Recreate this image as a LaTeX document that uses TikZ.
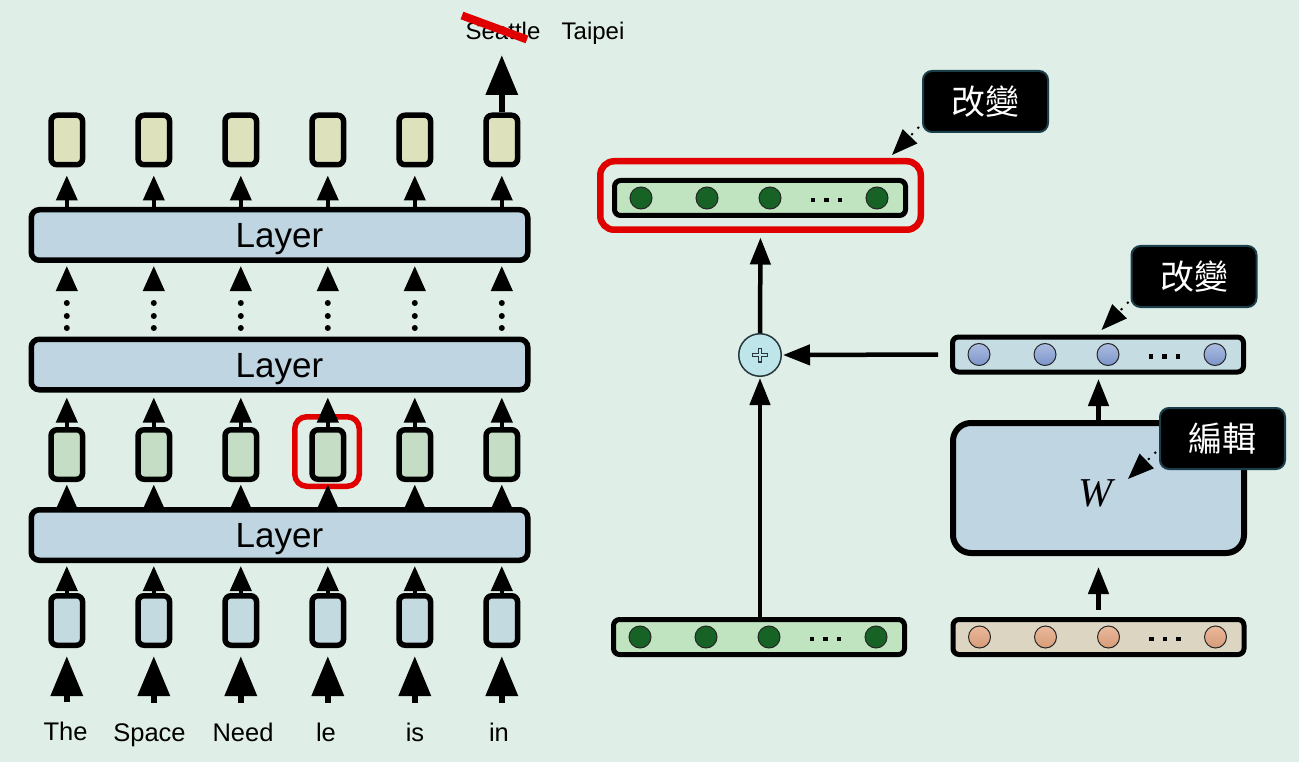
\documentclass[tikz,border=0pt]{standalone}
\usepackage{fontspec}
\setmainfont{Liberation Sans}
\newfontfamily\cjk{Noto Sans CJK TC}
\newfontfamily\lserif{Liberation Serif}
\usetikzlibrary{arrows.meta,calc}
\definecolor{bgc}{RGB}{223,238,230}
\definecolor{layerfill}{RGB}{191,213,225}
\definecolor{bluebox}{RGB}{195,218,224}
\definecolor{greenbox}{RGB}{197,221,196}
\definecolor{yellowbox}{RGB}{222,226,188}
\definecolor{vgreen}{RGB}{192,227,192}
\definecolor{dkgreen}{RGB}{23,99,37}
\definecolor{vblue}{RGB}{197,220,227}
\definecolor{vtan}{RGB}{220,213,194}
\definecolor{pluscyan}{RGB}{190,230,234}
\definecolor{plusline}{RGB}{40,55,60}
\definecolor{redc}{RGB}{224,0,0}
\definecolor{callborder}{RGB}{26,63,74}
\newcommand\vecdraw[2]{%
  \foreach \dx in {-119,-53,10,117}{\path[draw=black!85,line width=1pt,#2] ($(#1)+(\dx,0)$) circle[radius=11];}
  \foreach \dx in {53,66.5,80}{\fill ($(#1)+(\dx,2)$) +(-2.25,-2.25) rectangle +(2.25,2.25);}
}
\begin{document}
\begin{tikzpicture}[x=1pt,y=-1pt,
  sbox/.style={draw=black,line width=5.5pt,rounded corners=6pt,minimum width=31.5pt,minimum height=49.5pt,inner sep=0pt},
  layer/.style={draw=black,fill=layerfill,line width=5.5pt,rounded corners=8pt,minimum width=496.5pt,minimum height=50.5pt,inner sep=0pt,font=\fontsize{35}{35}\selectfont,text height=25pt,text depth=0pt},
  sarr/.style={line width=4pt,-{Triangle[length=25pt,width=21pt]}},
  barr/.style={line width=6.5pt,-{Triangle[length=40pt,width=31pt]}},
  rarr/.style={line width=4.5pt,-{Triangle[length=27pt,width=20pt]}},
  word/.style={anchor=base,inner sep=0pt,font=\fontsize{25.5}{25.5}\selectfont,text height=18.5pt},
  vec/.style={draw=black,line width=5pt,rounded corners=6pt,minimum width=291pt,minimum height=35pt,inner sep=0pt},
  callout/.style={fill=black,draw=callborder,line width=2pt,rounded corners=9pt,minimum width=125pt,minimum height=61pt,inner sep=0pt,text=white,font=\cjk\fontsize{34}{34}\selectfont,text height=26pt,text depth=0pt},
  pointer/.style={line width=2pt,dash pattern=on 2pt off 7pt,-{Triangle[length=26pt,width=20pt]}},
  redframe/.style={draw=redc,inner sep=0pt}
]
\fill[bgc] (0,0) rectangle (1299,762);
\useasboundingbox (0,0) rectangle (1299,762);

% ---------- left stack ----------
\node[layer] (L1) at (279.5,235) {Layer};
\node[layer] (L2) at (279.5,364.5) {Layer};
\node[layer] (L3) at (279.5,535) {Layer};
\foreach \i/\x in {1/66.8,2/153.8,3/240.8,4/327.8,5/414.8,6/501.8}{
  \node[sbox,fill=yellowbox] (Y\i) at (\x,140) {};
  \node[sbox,fill=greenbox] (G\i) at (\x,454.5) {};
  \node[sbox,fill=bluebox] (B\i) at (\x,620.5) {};
  \fill (\x,303) circle[radius=3];
  \fill (\x,316) circle[radius=3];
  \fill (\x,328) circle[radius=3];
  \coordinate (ds\i) at (\x,291);
}
\node[redframe,line width=5.5pt,rounded corners=12pt,minimum width=64.5pt,minimum height=69.5pt] (HL) at (327,451.5) {};

\node[word] (w1) at (65.5,740.5) {The};
\node[word] (w2) at (149.5,741) {Space};
\node[word] (w3) at (243,741) {Need};
\node[word] (w4) at (326,741) {le};
\node[word] (w5) at (415,741) {is};
\node[word] (w6) at (499,741) {in};

\foreach \i in {1,...,6}{
  \draw[sarr,shorten >=8pt] (L1.north -| Y\i) -- (Y\i.south);
  \draw[sarr,shorten >=3pt] (ds\i) -- (L1.south -| Y\i);
  \draw[sarr,shorten >=5pt] (G\i.north) -- (L2.south -| G\i);
  \draw[sarr,shorten >=2.5pt] (L3.north -| G\i) -- (G\i.south);
  \draw[sarr,shorten >=3pt] (B\i.north) -- (L3.south -| B\i);
  \draw[barr,shorten <=19.5pt,shorten >=8pt] (B\i |- w\i.north) -- (B\i.south);
}
\coordinate (outtip) at (501.8,55);
\draw[barr] (Y6.north) -- (outtip);

\node[anchor=base,inner sep=0pt,font=\fontsize{24}{24}\selectfont] (seattle) at (503,39.5) {Seattle};
\node[anchor=base,inner sep=0pt,font=\fontsize{24}{24}\selectfont] (taipei) at (593,40) {Taipei};
\draw[redc,line width=8pt] ($(seattle.base)+(-41,-24)$) -- ($(seattle.base)+(24,0)$);

% ---------- right side ----------
\node[vec,fill=vgreen] (V1) at (760,198) {};
\vecdraw{V1}{fill=dkgreen}
\node[redframe,line width=6.5pt,rounded corners=14pt,minimum width=320.5pt,minimum height=68.5pt] (R1) at (760.5,195.5) {};

\node[vec,fill=vblue] (V2) at (1098,354.5) {};
\vecdraw{V2}{top color={rgb,255:red,172;green,189;blue,225},bottom color={rgb,255:red,124;green,148;blue,201}}

\node[vec,fill=vgreen] (V3) at (759,637) {};
\vecdraw{V3}{fill=dkgreen}

\node[vec,fill=vtan] (V4) at (1098.5,637) {};
\vecdraw{V4}{top color={rgb,255:red,234;green,185;blue,156},bottom color={rgb,255:red,214;green,156;blue,120}}

\node[draw=black,fill=layerfill,line width=6pt,rounded corners=18pt,minimum width=291pt,minimum height=130pt,inner sep=0pt] (Wb) at (1098.5,488) {};
\node[inner sep=0pt,font=\lserif\itshape\fontsize{41}{41}\selectfont] (Wt) at (1096,493) {W};

\node[circle,draw=plusline,fill=pluscyan,line width=1.5pt,minimum size=42.5pt,inner sep=0pt] (P) at (760,355) {};
\draw[plusline,line width=3.4pt] ($(P)+(-8,0)$) -- ($(P)+(8,0)$) ($(P)+(0,-7.5)$) -- ($(P)+(0,7.5)$);
\draw[pluscyan,line width=1.2pt] ($(P)+(-6.8,0)$) -- ($(P)+(6.8,0)$) ($(P)+(0,-6.3)$) -- ($(P)+(0,6.3)$);

\draw[rarr,shorten >=4.5pt] (P.north) -- (R1.south);
\draw[rarr,shorten >=1pt] (V3.north -| P) -- (P.south);
\draw[rarr,shorten <=12pt,shorten >=1pt] (V2.west) -- (P.east);
\draw[rarr,shorten >=4.5pt] (Wb.north) -- (V2.south -| Wb);
\draw[rarr,shorten <=7.5pt,shorten >=11pt] (V4.north -| Wb) -- (Wb.south);

\node[callout] (C1) at (985.5,101.5) {改變};
\node[callout] (C2) at (1194,276.5) {改變};
\node[callout] (C3) at (1222.5,438.5) {編輯};
\coordinate (p1) at ($(C1.south west)+(-3,-6)$);
\coordinate (t1) at ($(p1)+(-27,28)$);
\coordinate (p2) at ($(C2.south west)+(-2,-6)$);
\coordinate (t2) at ($(p2)+(-27,28)$);
\coordinate (p3) at ($(C3.south west)+(-3,-18)$);
\coordinate (t3) at ($(p3)+(-28,27)$);
\draw[pointer] (p1) -- (t1);
\draw[pointer] (p2) -- (t2);
\draw[pointer] (p3) -- (t3);
\end{tikzpicture}
\end{document}
